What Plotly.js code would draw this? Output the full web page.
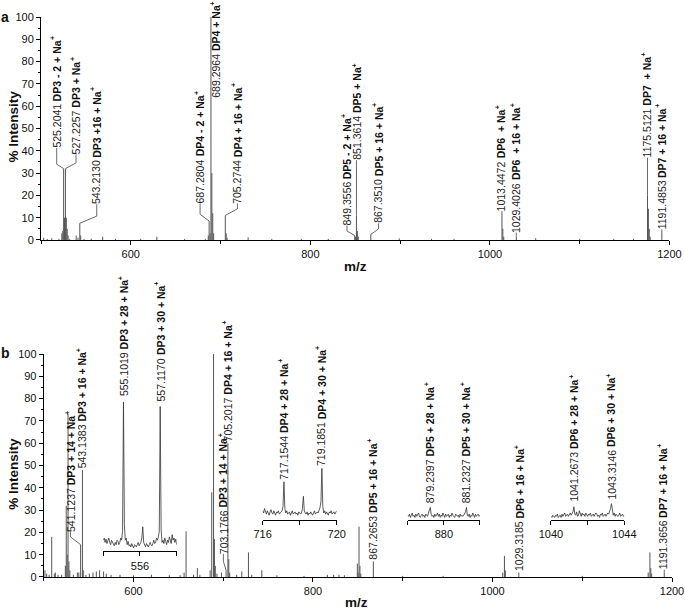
<!DOCTYPE html>
<html><head><meta charset="utf-8">
<script src="https://cdn.plot.ly/plotly-3.0.1.min.js"></script>
<style>html,body{margin:0;padding:0;background:#fff;}#chart{width:685px;height:612px;}</style>
</head><body><div id="chart"></div>
<script>
// ---------------- DATA ----------------
// Panel a: peak m/z and % intensity
const mzA = [503,507,512,520,523.2,524.2,525.2041,526.2,527.2257,528.2,529.2,530.2,532,539.2,541.2,543.2130,544.2,548,556,568.7,583,611,629,660,683,686.3,687.2804,688.3,689.2964,690.3,691.3,692.3,705.2744,706.3,707.3,730.7,757,790,820,849.3556,850.4,851.3614,852.4,853.4,867.3510,899,935,960,1013.4472,1014.4,1015.4,1029.4026,1051,1100,1138,1160,1175.5121,1176.5,1177.5,1178.5,1191.4853];
const intA = [1,0.5,0.8,0.5,3,4,32,10,32,10,5,2,0.5,2,1,7.5,2,0.5,0.6,1.5,0.5,0.5,1.5,0.5,0.5,2,8.5,3,100,30,12,3,11,3,1,1.2,0.5,0.5,0.5,2,1.5,11,4,1.5,2.5,0.7,0.5,0.5,12,5,1.5,1.5,0.8,0.5,0.5,0.5,20,14,5,1.5,3.5];

// Panel b: peak m/z and % intensity
const mzB = [501.4,503.3,506,508.9,511.8,513,516,520,524.1,525.1,526.1,527.1,528.1,529.1,533,537.5,539.1,541.1237,543.1383,544.1,547,550.8,554.9,558.6,562.3,566.7,569.7,575,585,600,620,640,652,656.4,658.6,667,671.2,674,685.4,687.2,689.2,690.2,691.2,693,698,703.1766,705.2017,706.2,707.2,715,720.7,728.1,731.8,743,759.8,790,816,823,829,835,849.4,850.3,851.3,852.3,853.3,867.2653,900,945,1011.4,1013.3,1014.3,1029.3185,1100,1173.5,1175.4,1176.4,1177.4,1191.3656];
const intB = [3,1.5,1,18,1.5,2,1,1,5,32,10,73,7,3,1,2,2,14.5,48,3,1,1.5,2,2.5,3,2.5,1.5,1,1,0.8,1,0.8,0.8,2,20.5,1,4,1,3,38,100,17,5,1.5,2,3,60,8,2,1,2.5,11,1,3,0.8,0.5,1,1,1,0.8,6,2,22.6,5,1.5,7,0.5,0.5,2,9.5,3,2,0.5,2,11,4,1.5,2];

// Annotated ions (number, ion; every ion carries a superscript +)
const labNumA = ['525.2041','527.2257','543.2130','687.2804','689.2964','705.2744','849.3556','851.3614','867.3510','1013.4472','1029.4026','1175.5121','1191.4853'];
const labIonA = ['DP3 - 2 + Na','DP3 + Na','DP3 +16 + Na','DP4 - 2 + Na','DP4 + Na','DP4 + 16 + Na','DP5 - 2 + Na','DP5 + Na','DP5 + 16 + Na','DP6\u00a0 + Na','DP6\u00a0 + 16 + Na','DP7\u00a0 + Na','DP7 + 16 + Na'];
const labNumB = ['541.1237','543.1383','703.1766','705.2017','867.2653','1029.3185','1191.3656'];
const labIonB = ['DP3 + 14 + Na','DP3 + 16 + Na','DP3 + 14 + Na','DP4 + 16 + Na','DP5 + 16 + Na','DP6 + 16 + Na','DP7 + 16 + Na'];

// Insets (panel b): zoomed profile, sampled every 0.05 m/z from the start value
const insetStart = [554, 716, 878, 1040];
const insetStep = 0.05;
const inset1Y = [5,6,4,5.5,3.5,4.5,6,4,3,5,4,3.5,2.5,4,3,5,4.5,3,4,6,5,9,67,12,5,6,3,4.5,2.5,3,2,3.5,2,1.5,3,2.5,2,3,4,2.5,3,4,6,11,4,3,2,3.5,2.5,2,3,4,3,2.5,3.5,5,3.5,4,6,5,6.5,9,65,10,4,5,3.5,6,4.5,3,5,4,6.5,5,3.5,7.5,5,6,4,5.5,3];
const inset2Y = [4,3,5,3.5,2.5,4,3,2,3.5,4.5,3,2.5,4,3,2,3.5,3,4,2.5,3,3.5,4,6,17,5,3,4,2.5,3,3.5,2,3,4,2.5,3,3.5,2.5,3,2,3.5,3,2.5,3,5,10.5,4,3,2.5,3.5,2,3,2.5,3.5,3,2,3,4,2.5,3,3.5,3,4,5.5,8,23,6,3,4,2.5,3.5,3,2,3.5,3,4,2.5,3,3.5,2.5,3,4];
const inset3Y = [2,1.5,2.5,1,2,3,1.5,2,1,2.5,1.5,2,3,1.5,1,2,2.5,1.5,2,1,2.5,2,1.5,3,4,5.5,2.5,1.5,2,1,2.5,1.5,2,3,1.5,2.5,1,2,1.5,3,2,1,2.5,1.5,2,2.5,1,2,1.5,3,2,1.5,1,2.5,2,1.5,2,1,2.5,1.5,2,1.5,2,3,3.5,5.5,2,1.5,2.5,1,2,1.5,3,2,1,2.5,1.5,2,2.5,1.5,2];
const inset4Y = [1.5,1,2,1.5,1,2,1.5,2.5,1,1.5,2,1,2.5,1.5,2,3,1.5,2,2.5,1.5,2,3,2,2.5,3.5,5.8,2.5,2,3.5,1.5,2,4,2,1.5,3,2,2.5,1.5,3,2,1.5,2.5,2,3,1.5,2,2.5,1.5,2,3,2.5,1.5,2,1,2.5,2,3,1.5,2,2.5,1.5,2,3,2.5,3.5,5,7.2,3,2,3,1.5,2.5,2,1.5,2,3,1.5,2,2.5,1.5,2];
const insetTickVals = [[554,556,558],[716,718,720],[878,880,882],[1040,1042,1044]];
const insetTickText = [['','556',''],['716','','720'],['','880',''],['1040','','1044']];
const insetLabNum = [['555.1019','557.1170'],['717.1544','719.1851'],['879.2397','881.2327'],['1041.2673','1043.3146']];
const insetLabIon = [['DP3 + 28 + Na','DP3 + 30 + Na'],['DP4 + 28 + Na','DP4 + 30 + Na'],['DP5 + 28 + Na','DP5 + 30 + Na'],['DP6 + 28 + Na','DP6 + 30 + Na']];

// ---------------- LAYOUT CONFIG (positions) ----------------
// label column x, label bottom y, leader elbow y ('v' = vertical leader, null = none)
const placeA = [[517.5,41.3,34],[539.0,38.4,34.6],[562.1,16,10.7],[677.2,16.4,11.5],[694.7,63.7,null],[718.8,16.4,14],[840.8,6.5,4],[852.6,35.8,'v'],[876.0,7.5,5],[1012.8,13,'v'],[1028.4,3.3,'v'],[1175.2,36.9,'v'],[1191.1,4.8,'v']];
const placeB = [[529.8,20.4,18],[542.3,48.6,null],[700.2,10.4,7],[705.8,61,null],[867.4,8,null],[1030.2,2.5,null],[1190.0,3.3,'v']];
const insetLabelY = [[69.4,67.2],[17.9,23.9],[7.4,7.4],[8.2,8.9]];
const insetDomX = [[0.0987,0.2151],[0.3513,0.4686],[0.5811,0.6957],[0.8082,0.9244]];
const insetBase = [11.5,25.7,25.7,25.7];
const insetSpan = 70;
const W = 685, H = 612, M = {l: 41, r: 13, t: 17, b: 35};
const topDom = [0.6018, 1], botDom = [0, 0.3982];

const FONT = 'Liberation Sans, Arial, Helvetica, sans-serif';
const ink = '#111';
const LFS = 10.5;

const ctx = document.createElement('canvas').getContext('2d');
function tw(s, size, bold) { ctx.font = (bold ? 'bold ' : '') + size + 'px "Liberation Sans"'; return ctx.measureText(s).width; }

function sticks(mz, it) {
  const x = [], y = [];
  mz.forEach((m, i) => { x.push(m, m, null); y.push(0, it[i], null); });
  return {x, y};
}
function nearest(m, mz, it) {
  let b = 0;
  for (let i = 1; i < mz.length; i++) if (Math.abs(mz[i] - m) < Math.abs(mz[b] - m)) b = i;
  return [mz[b], it[b]];
}
const ann = [];
// number (regular) + ion (bold) + superscript "+", stacked along the rotated line with pixel shifts
function addLabel(xr, yr, x, y, num, ion) {
  const wNum = tw(num + ' ', LFS, false);
  const wIon = tw(ion, LFS, true);
  const base = {xref: xr, yref: yr, x: x, y: y, textangle: -90, xanchor: 'center', yanchor: 'bottom',
    showarrow: false, borderpad: 0, borderwidth: 0};
  ann.push(Object.assign({}, base, {text: num, font: {family: FONT, size: LFS, color: '#222'}}));
  ann.push(Object.assign({}, base, {yshift: wNum, text: ion, font: {family: FONT, size: LFS, color: ink, weight: 'bold'}}));
  ann.push(Object.assign({}, base, {yshift: wNum + wIon + 0.3, xshift: -3.5, text: '+',
    font: {family: FONT, size: 7, color: ink, weight: 'bold'}}));
}
function labels(nums, ions, place, mz, it, xr, yr) {
  const cx = [], cy = [];
  nums.forEach((n, i) => {
    const [lx, ly, el] = place[i];
    addLabel(xr, yr, lx, ly, n, ions[i]);
    const [px, py] = nearest(parseFloat(n), mz, it);
    if (el === 'v') { cx.push(px, px, null); cy.push(py, ly, null); }
    else if (typeof el === 'number') { cx.push(lx, lx, px, null); cy.push(ly, el, py, null); }
  });
  return {x: cx, y: cy};
}

const sA = sticks(mzA, intA), sB = sticks(mzB, intB);
const cA = labels(labNumA, labIonA, placeA, mzA, intA, 'x', 'y');
const cB = labels(labNumB, labIonB, placeB, mzB, intB, 'x2', 'y2');

const traces = [
  {x: sA.x, y: sA.y, xaxis: 'x', yaxis: 'y', mode: 'lines', line: {color: '#555', width: 1}, hoverinfo: 'skip', showlegend: false},
  {x: cA.x, y: cA.y, xaxis: 'x', yaxis: 'y', mode: 'lines', line: {color: '#444', width: 0.8}, hoverinfo: 'skip', showlegend: false},
  {x: sB.x, y: sB.y, xaxis: 'x2', yaxis: 'y2', mode: 'lines', line: {color: '#555', width: 1}, hoverinfo: 'skip', showlegend: false},
  {x: cB.x, y: cB.y, xaxis: 'x2', yaxis: 'y2', mode: 'lines', line: {color: '#444', width: 0.8}, hoverinfo: 'skip', showlegend: false}
];

const axBase = {showgrid: false, zeroline: false, showline: true, linecolor: '#000', linewidth: 1,
  ticks: 'outside', tickcolor: '#000', tickfont: {family: FONT, size: 11, color: ink}, fixedrange: true};

const layout = {
  width: W, height: H, paper_bgcolor: '#fff', plot_bgcolor: 'rgba(0,0,0,0)',
  margin: M, showlegend: false,
  xaxis: Object.assign({}, axBase, {domain: [0, 0.996], anchor: 'y', range: [500, 1200], tick0: 0, dtick: 200, ticklen: 4,
    minor: {dtick: 100, ticks: 'outside', ticklen: 3, tickcolor: '#000'}}),
  yaxis: Object.assign({}, axBase, {domain: topDom, anchor: 'x', range: [0, 100], dtick: 10, ticklen: 4,
    minor: {dtick: 5, ticks: 'outside', ticklen: 2, tickcolor: '#000'}}),
  xaxis2: Object.assign({}, axBase, {domain: [0.0043, 1], anchor: 'y2', range: [500, 1200], tick0: 0, dtick: 200, ticklen: 4,
    minor: {dtick: 100, ticks: 'outside', ticklen: 3, tickcolor: '#000'}}),
  yaxis2: Object.assign({}, axBase, {domain: botDom, anchor: 'x2', range: [0, 100], dtick: 10, ticklen: 4,
    minor: {dtick: 5, ticks: 'outside', ticklen: 2, tickcolor: '#000'}}),
  annotations: ann
};

const insetYs = [inset1Y, inset2Y, inset3Y, inset4Y];
const unit = (botDom[1] - botDom[0]) / 100;
insetYs.forEach((ys, k) => {
  const n = k + 3;
  const xs = ys.map((_, i) => +(insetStart[k] + i * insetStep).toFixed(2));
  traces.push({x: xs, y: ys, xaxis: 'x' + n, yaxis: 'y' + n, mode: 'lines', line: {color: '#333', width: 0.8}, hoverinfo: 'skip', showlegend: false});
  layout['xaxis' + n] = Object.assign({}, axBase, {domain: insetDomX[k], anchor: 'y' + n,
    range: [xs[0], xs[xs.length - 1]], tickmode: 'array', tickvals: insetTickVals[k], ticktext: insetTickText[k], ticklen: 4});
  layout['yaxis' + n] = {domain: [botDom[0] + insetBase[k] * unit, botDom[0] + (insetBase[k] + insetSpan) * unit],
    anchor: 'x' + n, range: [0, insetSpan], visible: false, fixedrange: true};
  insetLabNum[k].forEach((num, j) => {
    addLabel('x' + n, 'y' + n, parseFloat(num), insetLabelY[k][j], num, insetLabIon[k][j]);
  });
});

// axis titles & panel letters
const tf = {family: FONT, size: 13.5, color: ink, weight: 'bold'};
ann.push({xref: 'paper', yref: 'paper', x: -0.044, y: 0.805, text: '% Intensity', textangle: -90, showarrow: false, xanchor: 'center', yanchor: 'middle', font: tf});
ann.push({xref: 'paper', yref: 'paper', x: -0.044, y: 0.185, text: '% Intensity', textangle: -90, showarrow: false, xanchor: 'center', yanchor: 'middle', font: tf});
ann.push({xref: 'paper', yref: 'paper', x: 0.498, y: 0.5536, text: 'm/z', showarrow: false, xanchor: 'center', yanchor: 'middle', font: tf});
ann.push({xref: 'paper', yref: 'paper', x: 0.500, y: -0.046, text: 'm/z', showarrow: false, xanchor: 'center', yanchor: 'middle', font: tf});
ann.push({xref: 'paper', yref: 'paper', x: -0.065, y: 1.0005, text: 'a', showarrow: false, xanchor: 'left', yanchor: 'middle', borderpad: 0, font: {family: FONT, size: 14, color: ink, weight: 'bold'}});
ann.push({xref: 'paper', yref: 'paper', x: -0.065, y: 0.3995, text: 'b', showarrow: false, xanchor: 'left', yanchor: 'middle', borderpad: 0, font: {family: FONT, size: 14, color: ink, weight: 'bold'}});

Plotly.newPlot('chart', traces, layout, {displayModeBar: false, staticPlot: true});
</script>
</body></html>
